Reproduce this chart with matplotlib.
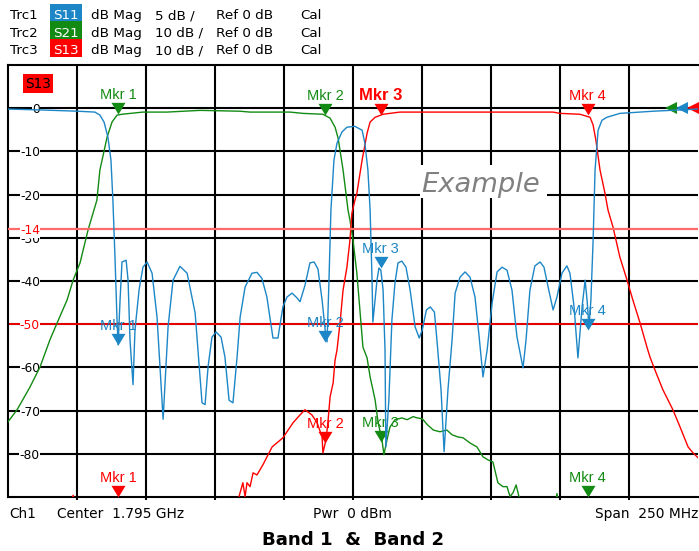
import numpy as np
import matplotlib
matplotlib.use("Agg")
import matplotlib.pyplot as plt
import matplotlib.transforms as mtransforms
from matplotlib.patches import Rectangle
from matplotlib.path import Path

# ---------------- channel settings ----------------
f_start = 1670.0      # MHz
f_stop = 1920.0       # MHz
n_div = 10
ref_db = 0
ref_pos_div = 9       # reference line sits 9 divisions above bottom
div_s11 = 5
div_s21 = 10
div_s13 = 10

trace_names = ["Trc1", "Trc2", "Trc3"]
trace_params = ["S11", "S21", "S13"]
trace_scales = ["5 dB /", "10 dB /", "10 dB /"]

# ---------------- trace data (MHz, dB) ----------------
s11_f = [1670, 1681.6, 1695.4, 1701.5, 1703.3, 1704.8, 1706.2, 1707.3, 1708, 1708.8,
         1709.5, 1709.9, 1710.6, 1711.3, 1712.8, 1713.5, 1714.2, 1715.3, 1716, 1717.5,
         1718.9, 1720.4, 1722.2, 1724, 1726.2, 1728, 1729.8, 1732.3, 1734.9, 1737.8,
         1740.3, 1741.4, 1742.5, 1743.9, 1745.4, 1747.2, 1748.6, 1750.1, 1751.5, 1753,
         1754.1, 1755.9, 1758.4, 1760.2, 1762, 1763.8, 1766, 1767.8, 1769.6, 1771.1,
         1772.9, 1774.7, 1775.8, 1777.6, 1779.4, 1780.9, 1782.3, 1783.8, 1784.9, 1785.6,
         1786.3, 1787, 1788.1, 1789.2, 1791, 1792.8, 1795.7, 1798.3, 1799.3, 1800.4,
         1801.2, 1801.9, 1802.2, 1803, 1803.7, 1804.4, 1805.1, 1805.9, 1806.6, 1806.9,
         1808, 1809.1, 1810.2, 1811.3, 1812.7, 1814.2, 1815.7, 1817.5, 1819, 1820.1,
         1821.6, 1823, 1824.5, 1825.4, 1826.9, 1828, 1829.4, 1830.9, 1832, 1833.8,
         1835.6, 1837.4, 1839.2, 1840.7, 1842.1, 1843.6, 1845.4, 1847.2, 1849, 1850.8,
         1852.6, 1854.4, 1856.6, 1857.7, 1859.1, 1860.9, 1862.8, 1864.2, 1865.7, 1867.5,
         1868.9, 1870.7, 1872.5, 1873.6, 1875.1, 1876.5, 1878, 1879.1, 1879.8, 1880.5,
         1881.2, 1882, 1882.7, 1883.8, 1885.2, 1887, 1891.7, 1903.7, 1920]
s11_db = [-0.1, -0.2, -0.35, -0.45, -0.8, -1.6, -3.35, -6, -10.6, -17.6,
          -24.5, -27.4, -22.2, -17.8, -17.6, -19.9, -26.8, -32, -25.7, -21,
          -18.4, -17.8, -19.1, -24.2, -36, -25.3, -19.9, -18.3, -19.1, -23.7,
          -34.1, -34.3, -29.9, -26.5, -25.9, -26.5, -28.8, -33.8, -34.1, -28.8,
          -24.2, -20.7, -19.1, -19, -19.7, -21.85, -26.6, -26.6, -23, -21.85,
          -21.4, -21.95, -22.4, -20.5, -17.9, -17.8, -18.6, -22.2, -25.65, -27.05,
          -19.9, -11.8, -6, -4.05, -2.75, -2.2, -2.1, -2.55, -4.05, -7.15,
          -11.8, -19.9, -24.75, -22.2, -19.9, -18.5, -18.75, -21.05, -28, -39.2,
          -33.75, -24.5, -20.25, -17.9, -17.7, -18.4, -21.05, -25.3, -26.6, -25.65,
          -23.35, -23, -23.6, -26.8, -32.6, -39.75, -32.6, -26.8, -21.4, -19.55,
          -18.95, -19.55, -21.85, -26.45, -31.1, -28, -22.55, -18.95, -18.4, -18.75,
          -21.05, -26.45, -30.05, -26.8, -21.05, -18.25, -17.8, -18.4, -20.7, -23.35,
          -21.85, -19.1, -18.25, -19.1, -23, -28.9, -23, -19.9, -22.2, -25.3,
          -22.2, -15.25, -7.15, -2.55, -1.4, -1.05, -0.6, -0.35, -0.1]

s21_f = [1670, 1673.3, 1678, 1681.6, 1685.2, 1687.8, 1691.4, 1693.6, 1696.1, 1699,
         1702.2, 1703.3, 1705.9, 1707.7, 1709.5, 1711.3, 1718.9, 1727.6, 1739.6, 1754.1,
         1757.7, 1772.2, 1776.9, 1784.1, 1786.7, 1788.5, 1789.6, 1791.4, 1793.2, 1793.9,
         1795, 1796.4, 1797.5, 1798.6, 1800.1, 1801.2, 1803, 1804.1, 1805.5, 1806.2,
         1807.3, 1808.4, 1810.2, 1812.7, 1814.6, 1816.8, 1818.3, 1820.1, 1822, 1824.1,
         1826.5, 1829, 1830.9, 1833, 1834.9, 1837.4, 1839.9, 1842.1, 1843.9, 1845.7,
         1847.5, 1849.3, 1850.8, 1851.9, 1853, 1854.1, 1854.8, 1855.5, 1862.8, 1868.2,
         1868.9, 1869.6, 1884.5, 1920]
s21_db = [-72.6, -69.8, -64.5, -59.9, -53.6, -49.7, -44.4, -39.8, -35.8, -28.2,
          -21.3, -14.3, -6.7, -3.2, -1.6, -1.4, -0.9, -0.9, -0.5, -0.7,
          -0.9, -0.9, -1.2, -1.4, -2.3, -4.4, -6.9, -14.3, -23.6, -25.9,
          -30.5, -38.2, -46.7, -55.3, -57.8, -62.2, -67.5, -72.8, -76.8, -80.2,
          -76.8, -73.8, -72.1, -71.7, -72.1, -71.4, -71.7, -71.9, -73.3, -74.5,
          -74.9, -74.5, -75.6, -76.1, -76.3, -77.5, -78.4, -80.7, -81.4, -81.9,
          -86.7, -87.6, -87.6, -89.9, -89, -87.2, -89, -91, -94, -92,
          -89.2, -92, -95, -96]

s13_f = [1670, 1692.5, 1693.6, 1694.6, 1752.2, 1753.7, 1755.1, 1755.9, 1756.6, 1757.7,
         1758.8, 1760.2, 1762.4, 1765.7, 1769.6, 1773.3, 1775.8, 1777.6, 1780.1, 1782,
         1783.8, 1784.1, 1785.2, 1785.9, 1786.7, 1787.8, 1788.5, 1789.2, 1790.3, 1791.4,
         1792.8, 1793.9, 1794.6, 1795.7, 1796.4, 1798.3, 1800.1, 1801.2, 1803, 1805.9,
         1812, 1818.3, 1848.3, 1867.5, 1870, 1877.2, 1880.9, 1882, 1883, 1884.5,
         1886.3, 1887.4, 1889.2, 1891.7, 1894.3, 1896.4, 1899, 1901.5, 1902.6, 1904.4,
         1907.3, 1910.9, 1913.5, 1916.4, 1918.2, 1920]
s13_db = [-97.5, -92, -89.6, -92, -92, -89.9, -86.7, -89.9, -86.7, -87.6,
          -84.4, -84.9, -82.5, -78.4, -76.3, -72.8, -71, -69.8, -71, -72.8,
          -76.1, -79.8, -76.8, -72.8, -66.8, -63.6, -58.3, -56, -49.7, -42.1,
          -36.8, -30.5, -24.3, -21.3, -19.7, -12, -5.8, -3.2, -2.1, -1.4,
          -0.9, -0.9, -0.9, -0.9, -1.2, -1.4, -2.1, -3.9, -7.4, -14.3,
          -19.7, -23.6, -27.5, -34.5, -39.8, -44.4, -49.7, -55.3, -57.6, -60.6,
          -65.2, -69.8, -73.8, -78.4, -79.8, -80.9]

# ---------------- markers ----------------
mkr_labels = ["Mkr 1", "Mkr 2", "Mkr 3", "Mkr 4"]
mkr_f = [1710, 1785, 1805, 1880]
s11_mkr_db = [-27.4, -27.05, -18.5, -25.7]
s21_mkr_db = [-1.4, -1.6, -77.2, -96]
s13_mkr_db = [-98, -77.5, -1.6, -1.6]
active_trace, active_mkr = "S13", 2

# ---------------- limit lines ----------------
s11_limit = -14
s13_limit = -50

BLUE = "#1c86c6"
GREEN = "#138a13"
RED = "#ff0000"
colors = [BLUE, GREEN, RED]

W, H = 699, 551
plt.rcParams['font.family'] = ['DejaVu Sans']
fig = plt.figure(figsize=(W / 100, H / 100), dpi=100)
pxT = mtransforms.Affine2D().scale(1 / W, -1 / H).translate(0, 1) + fig.transFigure

AX_L, AX_R, AX_T, AX_B = 8, 698, 65, 497
ax = fig.add_axes([AX_L / W, 1 - AX_B / H, (AX_R - AX_L) / W, (AX_B - AX_T) / H])
ax.set_xlim(f_start, f_stop)
ax.set_ylim(ref_db - ref_pos_div * div_s21, ref_db + (n_div - ref_pos_div) * div_s21)
ax2 = ax.twinx()
ax2.set_ylim(ref_db - ref_pos_div * div_s11, ref_db + (n_div - ref_pos_div) * div_s11)

step = (f_stop - f_start) / n_div
ax.set_xticks(np.arange(f_start + step, f_stop - step / 2, step))
yt = np.arange(ref_db - (ref_pos_div - 1) * div_s21, ref_db + 1, div_s21)
ax.set_yticks(yt, labels=["" if v == s13_limit else f"{int(v)}" for v in yt])
ax.grid(True, color="black", lw=1.5)
ax.set_axisbelow(True)
ax.tick_params(axis="x", length=2, width=1.5, direction="out", labelbottom=False)
ax.tick_params(axis="y", length=0, pad=-23, labelsize=8.8)
for t in ax.get_yticklabels():
    t.set_bbox(dict(facecolor="white", edgecolor="none", pad=0.3))
for s in ["left", "top", "bottom"]:
    ax.spines[s].set_linewidth(1.5)
ax.spines["right"].set_visible(False)
ax2.set_yticks([])
for s in ax2.spines.values():
    s.set_visible(False)

# limit lines
ax2.axhline(s11_limit, color="#ff6b6b", lw=1.6, zorder=1)
ax.axhline(s13_limit, color=RED, lw=1.3, zorder=1)
blend1 = mtransforms.blended_transform_factory(ax.transAxes, ax.transData)
blend2 = mtransforms.blended_transform_factory(ax2.transAxes, ax2.transData)
lab_x = 32 / (AX_R - AX_L)
ax2.text(lab_x, s11_limit, f"{s11_limit}", transform=blend2, ha="right", va="center_baseline",
         color=RED, fontsize=8.8, zorder=8,
         bbox=dict(facecolor="white", edgecolor="none", pad=0.3))
ax.text(lab_x, s13_limit, f"{s13_limit}", transform=blend1, ha="right", va="center_baseline",
        color=RED, fontsize=8.8, zorder=8,
        bbox=dict(facecolor="white", edgecolor="none", pad=0.3))

# traces
ax.plot(s21_f, s21_db, color=GREEN, lw=1.0, zorder=3)
ax.plot(s13_f, s13_db, color=RED, lw=1.0, zorder=3)
ax2.plot(s11_f, s11_db, color=BLUE, lw=1.0, zorder=3)

# markers
tri = Path([(0, 0), (-0.6, 1.0), (0.6, 1.0), (0, 0)],
           [Path.MOVETO, Path.LINETO, Path.LINETO, Path.CLOSEPOLY])


def draw_markers(a, values, color, name):
    lo = a.get_ylim()[0]
    for i, (f, v) in enumerate(zip(mkr_f, values)):
        vv = max(v, lo)
        bold = (name == active_trace and i == active_mkr)
        a.plot([f], [vv], marker=tri, ms=16.8, color=color, mew=0, ls="none",
               zorder=6, clip_on=False)
        a.annotate(mkr_labels[i], (f, vv), xytext=(0, 11.0 if bold else 10.7),
                   textcoords="offset points", ha="center", va="baseline",
                   color=color, fontsize=12 if bold else 10.5,
                   fontweight="bold" if bold else "normal",
                   family=["Liberation Sans", "DejaVu Sans"], zorder=7,
                   annotation_clip=False)


draw_markers(ax2, s11_mkr_db, BLUE, "S11")
draw_markers(ax, s21_mkr_db, GREEN, "S21")
draw_markers(ax, s13_mkr_db, RED, "S13")

# reference level arrows at right edge
for xf, c in zip([(671 - AX_L) / (AX_R - AX_L), (682 - AX_L) / (AX_R - AX_L),
                  (693 - AX_L) / (AX_R - AX_L)], [GREEN, BLUE, RED]):
    ax.plot([xf], [ref_db], marker="<", ms=8, color=c, mew=0, ls="none",
            transform=blend1, clip_on=False, zorder=6)

# active trace label inside the diagram
ax.text((38 - AX_L) / (AX_R - AX_L), (AX_B - 83.5) / (AX_B - AX_T), "S13",
        transform=ax.transAxes, ha="center", va="center", fontsize=9.8, color="black",
        zorder=8, bbox=dict(boxstyle="square,pad=0.15", facecolor=RED, edgecolor="none"))

# header
for i in range(3):
    base = 19.3 + i * 17.5
    fig.text(10, base, trace_names[i], transform=pxT, va="baseline", fontsize=9.7)
    fig.patches.append(Rectangle((50, base - 15.5), 32, 18.0, transform=pxT,
                                 facecolor=colors[i], edgecolor="none", zorder=1))
    fig.text(66, base, trace_params[i], transform=pxT, va="baseline", ha="center",
             fontsize=9.7, color="white", zorder=3)
    fig.text(91, base, "dB Mag", transform=pxT, va="baseline", fontsize=9.7)
    fig.text(155, base, trace_scales[i], transform=pxT, va="baseline", fontsize=9.7)
    fig.text(216, base, f"Ref {ref_db} dB", transform=pxT, va="baseline", fontsize=9.7)
    fig.text(300, base, "Cal", transform=pxT, va="baseline", fontsize=9.7)

# "Example" watermark
fig.patches.append(Rectangle((420, 165), 127, 33, transform=pxT, facecolor="white",
                             edgecolor="none", zorder=1))
fig.text(480.5, 191.7, "Example", transform=pxT, ha="center", va="baseline",
         fontsize=19.7, style="italic", color="#808080", zorder=3)

# footer
fig.text(9, 517.7, "Ch1", transform=pxT, va="baseline", fontsize=9.9)
fig.text(57, 517.7, "Center  1.795 GHz", transform=pxT, va="baseline", fontsize=9.9)
fig.text(352, 517.7, "Pwr  0 dBm", transform=pxT, va="baseline", ha="center", fontsize=9.9)
fig.text(698, 517.7, "Span  250 MHz", transform=pxT, va="baseline", ha="right", fontsize=9.9)
fig.text(353, 545, "Band 1  &  Band 2", transform=pxT, va="baseline", ha="center",
         fontsize=13.1, fontweight="bold")

fig.savefig("out.png", dpi=100)
